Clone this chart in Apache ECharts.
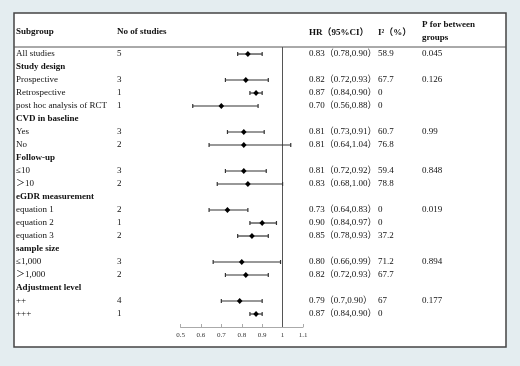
<!DOCTYPE html>
<html>
<head>
<meta charset="utf-8">
<script src="https://cdn.jsdelivr.net/npm/echarts@6/dist/echarts.min.js"></script>
<style>
	html, body { margin: 0; padding: 0; background: #e4edf0; }
	#main { width: 520px; height: 366px; }
</style>
</head>
<body>
<div id="main"></div>
<script>
	// rows of the table, top to bottom
	var subgroups = ['All studies', 'Study design', 'Prospective', 'Retrospective', 'post hoc analysis of RCT',
		'CVD in baseline', 'Yes', 'No', 'Follow-up', '≤10', '＞10', 'eGDR measurement',
		'equation 1', 'equation 2', 'equation 3', 'sample size', '≤1,000', '＞1,000',
		'Adjustment level', '++', '+++'];
	var isHeader = [0, 1, 0, 0, 0, 1, 0, 0, 1, 0, 0, 1, 0, 0, 0, 1, 0, 0, 1, 0, 0];
	var nStudies = ['5', '', '3', '1', '1', '', '3', '2', '', '3', '2', '', '2', '1', '2', '', '3', '2', '', '4', '1'];
	var hr = [0.83, null, 0.82, 0.87, 0.70, null, 0.81, 0.81, null, 0.81, 0.83, null, 0.73, 0.90, 0.85, null, 0.80, 0.82, null, 0.79, 0.87];
	var ciLow = [0.78, null, 0.72, 0.84, 0.56, null, 0.73, 0.64, null, 0.72, 0.68, null, 0.64, 0.84, 0.78, null, 0.66, 0.72, null, 0.70, 0.84];
	var ciHigh = [0.90, null, 0.93, 0.90, 0.88, null, 0.91, 1.04, null, 0.92, 1.00, null, 0.83, 0.97, 0.93, null, 0.99, 0.93, null, 0.90, 0.90];
	var hrLabels = ['0.83（0.78,0.90）', '', '0.82（0.72,0.93）', '0.87（0.84,0.90）', '0.70（0.56,0.88）', '',
		'0.81（0.73,0.91）', '0.81（0.64,1.04）', '', '0.81（0.72,0.92）', '0.83（0.68,1.00）', '',
		'0.73（0.64,0.83）', '0.90（0.84,0.97）', '0.85（0.78,0.93）', '', '0.80（0.66,0.99）', '0.82（0.72,0.93）', '',
		'0.79（0.7,0.90）', '0.87（0.84,0.90）'];
	var i2 = ['58.9', '', '67.7', '0', '0', '', '60.7', '76.8', '', '59.4', '78.8', '', '0', '0', '37.2', '', '71.2', '67.7', '', '67', '0'];
	var pBetween = ['0.045', '', '0.126', '', '', '', '0.99', '', '', '0.848', '', '', '0.019', '', '', '', '0.894', '', '', '0.177', ''];
	var xTicks = [0.5, 0.6, 0.7, 0.8, 0.9, 1, 1.1];
	var refValue = 1;

	var FONT = '"Liberation Serif", "Times New Roman", "Noto Sans CJK SC", serif';
	var INK = '#111';

	var ciData = [], rowData = [];
	for (var i = 0; i < subgroups.length; i++) {
		rowData.push([xTicks[0], i]);
		if (hr[i] != null) ciData.push([ciLow[i], ciHigh[i], hr[i], i]);
	}

	function renderCI(params, api) {
		var a = api.coord([api.value(0), api.value(3)]),
			b = api.coord([api.value(1), api.value(3)]),
			m = api.coord([api.value(2), api.value(3)]);
		var st = { stroke: '#333', lineWidth: 1.2 };
		return {
			type: 'group',
			children: [
				{ type: 'line', shape: { x1: a[0], y1: a[1], x2: b[0], y2: b[1] }, style: st },
				{ type: 'line', shape: { x1: a[0], y1: a[1] - 2, x2: a[0], y2: a[1] + 2 }, style: st },
				{ type: 'line', shape: { x1: b[0], y1: b[1] - 2, x2: b[0], y2: b[1] + 2 }, style: st },
				{ type: 'polygon', shape: { points: [[m[0], m[1] - 3], [m[0] + 2.8, m[1]], [m[0], m[1] + 3], [m[0] - 2.8, m[1]]] }, style: { fill: '#000' } }
			]
		};
	}

	function txt(x, y, s, bold) {
		return {
			type: 'text',
			style: { x: x, y: y, text: s, fill: INK, font: (bold ? 'bold ' : '') + '9px ' + FONT, verticalAlign: 'middle', textAlign: 'left' }
		};
	}

	function renderRow(params, api) {
		var k = params.dataIndex;
		var y = api.coord([api.value(0), api.value(1)])[1];
		var kids = [txt(16, y, subgroups[k], isHeader[k])];
		if (!isHeader[k]) {
			kids.push(txt(117, y, nStudies[k]));
			kids.push(txt(309, y, hrLabels[k]));
			kids.push(txt(378, y, i2[k]));
			kids.push(txt(422, y, pBetween[k]));
		}
		return { type: 'group', children: kids };
	}

	var myChart = echarts.init(document.getElementById('main'));
	var option = {
		backgroundColor: '#e4edf0',
		animation: false,
		grid: { left: 180.5, right: 217, top: 47, bottom: 39 },
		xAxis: {
			type: 'value', min: 0.5, max: 1.1, interval: 0.1,
			splitLine: { show: false },
			axisLine: { onZero: false, lineStyle: { color: '#aaa', width: 1 } },
			axisTick: { inside: true, length: 3, lineStyle: { color: '#aaa' } },
			axisLabel: { fontSize: 7, fontFamily: FONT, color: '#333', margin: 5,
				formatter: function(v) { return String(Math.round(v * 10) / 10); } }
		},
		yAxis: { type: 'value', inverse: true, min: -0.54, max: 21, show: false },
		graphic: [
			{ type: 'rect', z: -10, shape: { x: 14, y: 13, width: 492, height: 334 },
				style: { fill: '#fff', stroke: '#444', lineWidth: 1.5 } },
			{ type: 'line', shape: { x1: 14, y1: 47, x2: 506, y2: 47 }, style: { stroke: '#555', lineWidth: 1 } },
			{ type: 'text', style: { x: 16, y: 32, text: 'Subgroup', font: 'bold 9px ' + FONT, fill: INK, verticalAlign: 'middle' } },
			{ type: 'text', style: { x: 117, y: 32, text: 'No of studies', font: 'bold 9px ' + FONT, fill: INK, verticalAlign: 'middle' } },
			{ type: 'text', style: { x: 309, y: 33, text: 'HR（95%CI）', font: 'bold 9px ' + FONT, fill: INK, verticalAlign: 'middle' } },
			{ type: 'text', style: { x: 378, y: 33, text: 'I²（%）', font: 'bold 9px ' + FONT, fill: INK, verticalAlign: 'middle' } },
			{ type: 'text', style: { x: 422, y: 25, text: 'P for between', font: 'bold 9px ' + FONT, fill: INK, verticalAlign: 'middle' } },
			{ type: 'text', style: { x: 422, y: 38, text: 'groups', font: 'bold 9px ' + FONT, fill: INK, verticalAlign: 'middle' } }
		],
		series: [
			{
				type: 'line', data: [], silent: true,
				markLine: { symbol: 'none', silent: true, label: { show: false },
					lineStyle: { color: '#555', width: 1, type: 'solid' }, data: [{ xAxis: refValue }] }
			},
			{ type: 'custom', data: ciData, renderItem: renderCI, encode: { x: [0, 1, 2], y: 3 }, clip: false, z: 5 },
			{ type: 'custom', data: rowData, renderItem: renderRow, encode: { x: 0, y: 1 }, clip: false, z: 5 }
		]
	};
	myChart.setOption(option);
</script>
</body>
</html>
